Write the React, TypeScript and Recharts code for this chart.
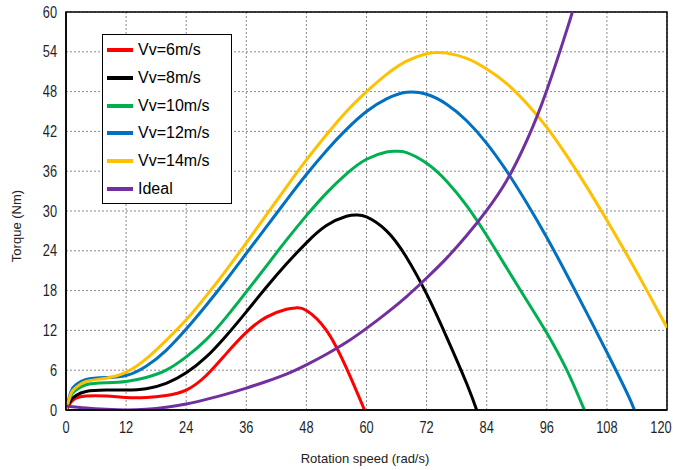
import React from "react";
import {
  LineChart,
  Line,
  XAxis,
  YAxis,
  CartesianGrid,
  Legend,
  ReferenceArea,
} from "recharts";

// ---- Data (rotation speed rad/s -> torque Nm) ----
const xTicks = [0, 12, 24, 36, 48, 60, 72, 84, 96, 108, 120];
const yTicks = [0, 6, 12, 18, 24, 30, 36, 42, 48, 54, 60];

const redX = [0, 1, 2, 4, 8, 12, 16, 20, 24, 28, 32, 36, 40, 44, 46, 48, 52, 56, 59.6];
const redY = [0, 1.2, 1.8, 2.1, 2.1, 1.9, 1.9, 2.2, 3.0, 5.2, 8.5, 11.7, 14.0, 15.2, 15.4, 15.0, 12.0, 6.3, 0];

const blackX = [0, 1, 2, 4, 8, 12, 16, 20, 24, 28, 32, 36, 40, 44, 48, 52, 56, 58, 60, 64, 68, 72, 76, 80, 82];
const blackY = [0, 1.5, 2.2, 2.8, 3.0, 3.0, 3.2, 4.0, 5.6, 8.0, 11.2, 14.8, 18.5, 22.0, 25.2, 27.8, 29.2, 29.4, 29.1, 27.0, 23.0, 17.5, 11.0, 4.0, 0];

const greenX = [0, 1, 2, 4, 8, 12, 16, 20, 24, 28, 32, 36, 40, 44, 48, 52, 56, 60, 64, 66, 68, 72, 76, 80, 84, 88, 92, 96, 100, 103.5];
const greenY = [0, 2.2, 3.0, 3.8, 4.1, 4.3, 4.9, 6.0, 8.0, 10.6, 14.0, 17.8, 21.7, 25.6, 29.3, 32.7, 35.6, 37.8, 38.9, 39.0, 38.8, 37.2, 34.5, 30.8, 26.3, 21.4, 16.5, 11.6, 6.0, 0];

const blueX = [0, 1, 2, 4, 8, 12, 16, 20, 24, 28, 32, 36, 40, 44, 48, 52, 56, 60, 64, 68, 72, 76, 80, 84, 88, 92, 96, 100, 104, 108, 112, 113.5];
const blueY = [0, 2.8, 3.8, 4.6, 4.9, 5.2, 6.6, 9.0, 12.2, 15.8, 19.6, 23.6, 27.6, 31.6, 35.5, 39.1, 42.3, 45.0, 46.9, 47.9, 47.6, 46.1, 43.6, 40.2, 36.0, 31.2, 26.0, 20.4, 14.6, 8.7, 2.6, 0];

const yellowX = [0, 1, 2, 4, 8, 12, 16, 20, 24, 28, 32, 36, 40, 44, 48, 52, 56, 60, 64, 68, 72, 74, 76, 80, 84, 88, 92, 96, 100, 104, 108, 112, 116, 120];
const yellowY = [0, 2.5, 3.4, 4.3, 4.8, 5.7, 7.7, 10.5, 13.6, 17.2, 21.1, 25.2, 29.4, 33.6, 37.7, 41.5, 45.0, 48.0, 50.6, 52.6, 53.7, 53.9, 53.8, 53.0, 51.4, 49.2, 46.2, 42.6, 38.3, 33.6, 28.6, 23.4, 18.0, 12.4];

const idealX = [0, 4, 8, 12, 16, 20, 24, 28, 32, 36, 40, 44, 48, 52, 56, 60, 64, 68, 72, 76, 80, 84, 88, 92, 96, 100, 101.1];
const idealY = [0.6, 0.3, 0.1, 0, 0.1, 0.4, 0.9, 1.6, 2.4, 3.3, 4.3, 5.4, 6.8, 8.4, 10.2, 12.3, 14.6, 17.1, 19.9, 22.9, 26.3, 30.1, 34.6, 40.6, 48.2, 57.3, 60];

const seriesNames = ["Vv=6m/s", "Vv=8m/s", "Vv=10m/s", "Vv=12m/s", "Vv=14m/s", "Ideal"];
const seriesColors = ["#ff0000", "#000000", "#00b050", "#0070c0", "#ffc000", "#7030a0"];

const toPoints = (xs: number[], ys: number[]) => xs.map((x, i) => ({ x, y: ys[i] }));

const series = [
  toPoints(redX, redY),
  toPoints(blackX, blackY),
  toPoints(greenX, greenY),
  toPoints(blueX, blueY),
  toPoints(yellowX, yellowY),
  toPoints(idealX, idealY),
];

const tickFont = {
  fontFamily: "'Liberation Sans', Arial, sans-serif",
  fontSize: 16,
  fill: "#1f1f2a",
};

const XTick = (props: any) => {
  const { x, y, payload } = props;
  return (
    <g transform={`translate(${x},${y})`}>
      <text transform="scale(0.8,1)" textAnchor="middle" dy="0.71em" style={tickFont}>
        {payload.value}
      </text>
    </g>
  );
};

const YTick = (props: any) => {
  const { x, y, payload } = props;
  return (
    <g transform={`translate(${x},${y})`}>
      <text transform="scale(0.8,1)" textAnchor="end" dy="0.355em" style={tickFont}>
        {payload.value}
      </text>
    </g>
  );
};

const renderLegend = () => (
  <div
    style={{
      width: 130,
      height: 170,
      boxSizing: "border-box",
      border: "1.5px solid #000",
      background: "#fff",
      position: "relative",
      fontFamily: "'Liberation Sans', Arial, sans-serif",
      fontSize: 16,
      color: "#000",
    }}
  >
    {seriesNames.map((name, i) => (
      <div
        key={name}
        style={{
          position: "absolute",
          left: 0,
          top: 1 + i * 27.8,
          height: 28,
          display: "flex",
          alignItems: "center",
          whiteSpace: "nowrap",
        }}
      >
        <span
          style={{
            display: "inline-block",
            width: 26,
            height: 4,
            marginLeft: 4,
            marginRight: 5,
            background: seriesColors[i],
          }}
        />
        <span>{name}</span>
      </div>
    ))}
  </div>
);

export default function App() {
  return (
    <div style={{ position: "absolute", left: 0, top: 0, background: "#fff" }}>
      <LineChart
        width={673}
        height={470}
        margin={{ top: 12, right: 6, bottom: 0, left: 0 }}
      >
        <CartesianGrid
          stroke="#8a8a8a"
          strokeDasharray="2 2"
          strokeWidth={1}
          horizontalValues={yTicks}
          verticalValues={xTicks}
        />
        <XAxis
          dataKey="x"
          type="number"
          domain={[0, 120]}
          ticks={xTicks}
          allowDataOverflow
          height={60}
          tickLine={false}
          tickSize={0}
          tickMargin={12}
          axisLine={{ stroke: "#000", strokeWidth: 1.5 }}
          tick={<XTick />}
          label={() => (
            <text
              x={365}
              y={463}
              textAnchor="middle"
              style={{ fontFamily: "'Liberation Sans', Arial, sans-serif", fontSize: 13, fill: "#222" }}
            >
              Rotation speed (rad/s)
            </text>
          )}
        />
        <YAxis
          type="number"
          domain={[0, 60]}
          ticks={yTicks}
          allowDataOverflow
          width={66}
          tickLine={false}
          tickSize={0}
          tickMargin={9}
          axisLine={{ stroke: "#000", strokeWidth: 1.5 }}
          tick={<YTick />}
          label={() => (
            <text
              x={0}
              y={0}
              transform="translate(21, 226) rotate(-90)"
              textAnchor="middle"
              style={{ fontFamily: "'Liberation Sans', Arial, sans-serif", fontSize: 13, fill: "#222" }}
            >
              Torque (Nm)
            </text>
          )}
        />
        <ReferenceArea
          x1={0}
          x2={120}
          y1={0}
          y2={60}
          fill="none"
          stroke="#000"
          strokeWidth={1.5}
          ifOverflow="visible"
        />
        {series.map((pts, i) => (
          <Line
            key={seriesNames[i]}
            data={pts}
            dataKey="y"
            name={seriesNames[i]}
            type="natural"
            stroke={seriesColors[i]}
            strokeWidth={3}
            dot={false}
            activeDot={false}
            isAnimationActive={false}
          />
        ))}
        <Legend
          layout="vertical"
          align="center"
          verticalAlign="middle"
          content={renderLegend}
          wrapperStyle={{ position: "absolute", left: 102, top: 34, width: 130, height: 170 }}
        />
      </LineChart>
    </div>
  );
}
